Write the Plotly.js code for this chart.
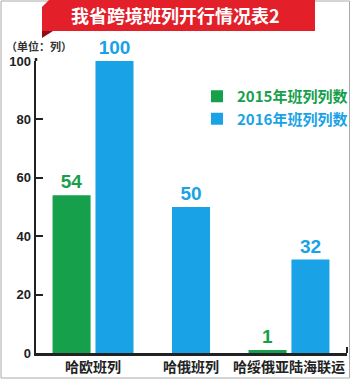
<!DOCTYPE html>
<html><head><meta charset="utf-8">
<script src="https://cdn.plot.ly/plotly-3.0.1.min.js"></script>
<style>html,body{margin:0;padding:0;background:#fff;}#chart{width:351px;height:379px;}</style>
</head><body><div id="chart"></div>
<script>
const categories = ['哈欧班列', '哈俄班列', '哈绥俄亚陆海联运'];
const series2015 = [54, null, 1];
const series2016 = [100, 50, 32];
const seriesNames = ['2015年班列列数', '2016年班列列数'];
const yTicks = [0, 20, 40, 60, 80, 100];

const GREEN = '#16a04c', BLUE = '#1aa2e6', RED = '#e3202a', DARK = '#222';
const L = 36, R = 347, T = 61, B = 353;
const px = v => (v - L) / (R - L);
const py = v => (B - v) / (B - T);
const CJK = '"Noto Sans CJK SC", "Liberation Sans", sans-serif';
const NUM = '"Liberation Sans", Arial, sans-serif';

const W = 0.388;
const greenTrace = {
  type: 'bar', x: categories, y: series2015, name: '<span style="color:' + GREEN + '">' + seriesNames[0] + '</span>',
  marker: {color: GREEN}, width: W, offset: -W - 0.025,
  text: series2015.map(v => v == null ? '' : String(v)), textposition: 'outside', cliponaxis: false,
  textfont: {family: NUM, size: 19, color: GREEN, weight: 'bold'}, hoverinfo: 'skip'
};
const blueTrace = {
  type: 'bar', x: categories, y: series2016, name: '<span style="color:' + BLUE + '">' + seriesNames[1] + '</span>',
  marker: {color: BLUE}, width: W,
  offset: series2015.map(v => v == null ? -W / 2 : 0.025),
  text: series2016.map(String), textposition: 'outside', cliponaxis: false,
  textfont: {family: NUM, size: 19, color: BLUE, weight: 'bold'}, hoverinfo: 'skip'
};

const layout = {
  width: 351, height: 379,
  margin: {l: L, r: 351 - R, t: T, b: 379 - B, pad: 0, autoexpand: false},
  paper_bgcolor: '#fff', plot_bgcolor: '#fff',
  showlegend: true,
  legend: {x: px(197), y: py(80), xanchor: 'left', yanchor: 'top', bgcolor: 'rgba(0,0,0,0)',
    font: {family: CJK, size: 15, weight: 'bold'}, itemsizing: 'constant', tracegroupgap: 0, itemwidth: 30},
  xaxis: {range: [-0.582, 2.592], showline: true, linecolor: DARK, linewidth: 2.5, ticks: '', automargin: false,
    tickangle: 0,
    tickfont: {family: CJK, size: 14, color: DARK, weight: 'bold'}, fixedrange: true, showgrid: false},
  yaxis: {range: [0, 100], tickvals: yTicks, showline: true, linecolor: DARK, linewidth: 2.5, automargin: false,
    ticks: 'inside', ticklen: 7, tickwidth: 2, tickcolor: DARK, showgrid: false, zeroline: false,
    tickfont: {family: NUM, size: 13, color: DARK, weight: 'bold'}, fixedrange: true},
  shapes: [
    {type: 'rect', xref: 'paper', yref: 'paper', x0: px(1), x1: px(349.5), y0: py(378), y1: py(1),
      line: {color: '#aaa', width: 1}, layer: 'below'},
    {type: 'path', xref: 'paper', yref: 'paper',
      path: `M ${px(49)} ${py(0)} L ${px(315)} ${py(0)} L ${px(315)} ${py(31)} L ${px(42)} ${py(31)} L ${px(42)} ${py(7)} Z`,
      fillcolor: RED, line: {width: 0}},
    {type: 'path', xref: 'paper', yref: 'paper',
      path: `M ${px(42)} ${py(31)} L ${px(53)} ${py(31)} L ${px(42)} ${py(38)} Z`,
      fillcolor: '#8e0f15', line: {width: 0}},
    {type: 'line', xref: 'paper', yref: 'paper', x0: 1, x1: 1, y0: 0, y1: py(347),
      line: {color: DARK, width: 2}},
    {type: 'line', xref: 'paper', yref: 'paper', x0: 0, x1: 0, y0: 1, y1: py(58),
      line: {color: DARK, width: 2.5}}
  ],
  annotations: [
    {xref: 'paper', yref: 'paper', x: px(175), y: py(15), text: '我省跨境班列开行情况表2', showarrow: false,
      font: {family: CJK, size: 18, color: '#fff', weight: 'bold'}, xanchor: 'center', yanchor: 'middle'},
    {xref: 'paper', yref: 'paper', x: px(39), y: py(46), text: '（单位：列）', showarrow: false,
      font: {family: CJK, size: 11, color: '#333', weight: 'bold'}, xanchor: 'center', yanchor: 'middle'}
  ]
};
Plotly.newPlot('chart', [greenTrace, blueTrace], layout, {staticPlot: true});
</script></body></html>
